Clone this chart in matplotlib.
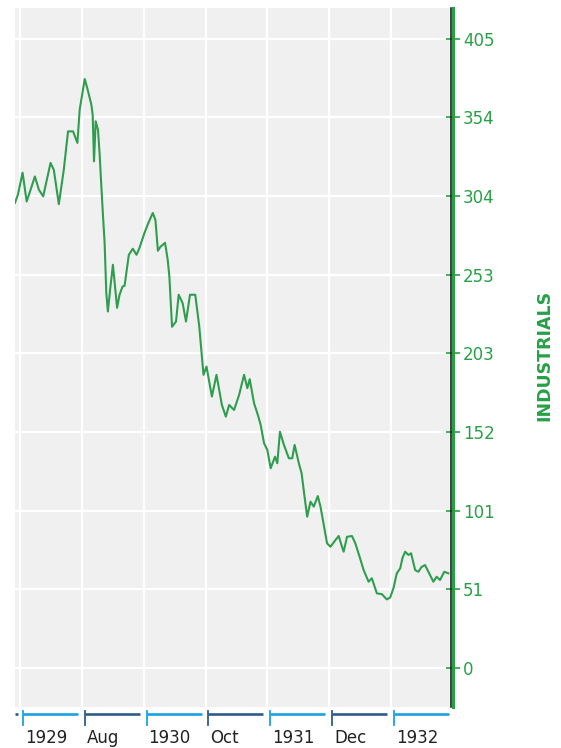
import matplotlib
matplotlib.use("Agg")
import matplotlib.pyplot as plt
import matplotlib.transforms as mtransforms
import numpy as np

# ---- data (x: months since Jan 1929, y: index points) ----
months = [-0.56,-0.23,0.30,0.76,1.13,1.69,2.14,2.63,3.46,3.83,
          4.40,4.96,5.44,6.01,6.50,6.76,7.33,7.66,8.08,8.23,
          8.38,8.57,8.83,9.02,9.21,9.39,9.58,9.77,9.95,10.20,
          10.52,10.99,11.27,11.61,11.84,12.32,12.77,13.19,13.53,14.09,
          14.54,15.03,15.33,15.61,15.89,16.42,16.72,16.91,17.21,17.66,
          17.96,18.41,18.79,19.24,19.84,20.29,20.77,21.11,21.72,22.24,
          22.85,23.30,23.67,24.23,24.80,25.36,25.73,26.00,26.49,26.86,
          27.24,27.62,27.99,28.37,28.86,29.12,29.42,29.87,30.43,30.81,
          31.08,31.56,31.87,32.18,32.50,32.88,33.25,33.70,34.01,34.38,
          34.75,35.14,35.70,36.07,36.44,36.63,37.01,37.57,37.95,38.44,
          38.89,39.45,39.82,40.39,40.95,41.51,41.90,42.27,42.64,43.03,
          43.28,43.59,43.96,44.26,44.72,45.09,45.43,45.84,46.22,46.78,
          47.15,47.53,48.02,48.47]
industrials = [299.4,304.6,318.7,300.2,306.5,316.3,307.8,303.5,325.0,320.6,
               298.5,320.6,345.3,345.3,337.9,359.3,379.0,372.2,362.5,356.0,
               326.0,351.8,346.4,330.3,310.0,291.7,273.6,241.4,229.4,243.4,
               259.5,231.8,240.2,245.5,246.0,265.9,269.8,265.9,270.4,280.0,
               286.5,292.8,288.4,268.5,271.0,273.6,262.7,251.8,219.6,223.0,
               240.2,234.8,223.0,240.2,240.2,219.8,188.7,194.0,174.7,188.7,
               169.3,161.8,169.3,166.1,175.8,188.7,180.1,185.9,170.4,164.0,
               156.5,144.7,140.4,128.6,136.0,131.8,152.1,143.6,135.0,135.0,
               143.6,131.8,125.4,111.4,97.4,107.1,103.9,110.7,103.9,92.1,
               80.3,78.1,82.4,85.0,78.1,74.9,84.5,85.0,80.3,71.5,
               63.1,55.6,57.8,48.1,47.6,44.2,45.5,51.5,61.0,64.2,
               70.8,74.9,72.8,73.9,63.1,62.0,65.0,66.3,62.0,55.6,
               58.8,56.7,62.0,61.0]

x_tick_pos = [0, 7, 14, 21, 28, 35, 42]
x_tick_labels = ["1929", "Aug", "1930", "Oct", "1931", "Dec", "1932"]
y_tick_labels = ["0", "51", "101", "152", "203", "253", "304", "354", "405"]
y_tick_pos = np.linspace(0, 405, len(y_tick_labels))

# ---- style ----
BG = "#f0f0f0"
LINE = "#2e9e4e"
GREEN = "#27a046"
LIGHT_BLUE = "#1ba1e2"
DARK_BLUE = "#2e5c8a"

W, H = 561, 748
fig = plt.figure(figsize=(W / 100, H / 100), dpi=100)
fig.patch.set_facecolor("white")
ax = fig.add_axes([15 / W, 1 - 707 / H, (450.5 - 15) / W, (707 - 7.5) / H])
ax.set_facecolor(BG)

xmin, xmax = -0.56, 48.72
ax.set_xlim(xmin, xmax)
ax.set_ylim(-25, 425)

for xp in x_tick_pos:
    ax.axvline(xp, color="white", lw=1.6, zorder=1)
for yp in y_tick_pos:
    ax.axhline(yp, color="white", lw=1.6, zorder=1)

ax.plot(months, industrials, color=LINE, lw=1.5, zorder=3, solid_joinstyle="round")

for s in ["left", "top", "bottom"]:
    ax.spines[s].set_visible(False)
ax.spines["right"].set_color(GREEN)
ax.spines["right"].set_linewidth(2.2)
ax.spines["right"].set_position(("outward", 2))
ax.plot([1, 1], [0, 1], transform=ax.transAxes, color="#111111", lw=1.1,
        clip_on=False, zorder=5)

ax.yaxis.tick_right()
ax.set_yticks(y_tick_pos)
ax.set_yticklabels(y_tick_labels)
ax.tick_params(axis="y", direction="inout", length=10, width=1.2, color=GREEN,
               labelcolor=GREEN, labelsize=12, pad=2)
for lab in ax.get_yticklabels():
    lab.set_fontfamily("DejaVu Sans")
ax.set_xticks([])

ax.text(1.215, (355 - 707) / (7.5 - 707), "INDUSTRIALS", transform=ax.transAxes,
        rotation=90, ha="center", va="center", color=GREEN, fontsize=12.5,
        fontweight="bold")

# ---- bottom period brackets ----
trans = mtransforms.blended_transform_factory(ax.transData, ax.transAxes)
y_line = (707 - 714) / (707 - 7.5)
y_tick_top = (707 - 711) / (707 - 7.5)
y_tick_bot = (707 - 725) / (707 - 7.5)
y_lab = (707 - 738) / (707 - 7.5)
# partial segment at left edge
ax.plot([xmin, -0.25], [y_line, y_line], transform=trans, color=DARK_BLUE,
        lw=1.9, clip_on=False, solid_capstyle="butt")
for i, (xp, lab) in enumerate(zip(x_tick_pos, x_tick_labels)):
    c = LIGHT_BLUE if i % 2 == 0 else DARK_BLUE
    x0 = xp + 0.33
    x1 = min(xp + 6.55, xmax - 0.02)
    ax.plot([x0, x1], [y_line, y_line], transform=trans, color=c, lw=1.9,
            clip_on=False, solid_capstyle="butt")
    ax.plot([x0, x0], [y_tick_top, y_tick_bot], transform=trans, color=c,
            lw=1.3, clip_on=False)
    ax.text(xp + 0.55, y_lab, lab, transform=trans, ha="left", va="center",
            fontsize=12, color="#222222")

fig.savefig("out.png", dpi=100, facecolor="white")
